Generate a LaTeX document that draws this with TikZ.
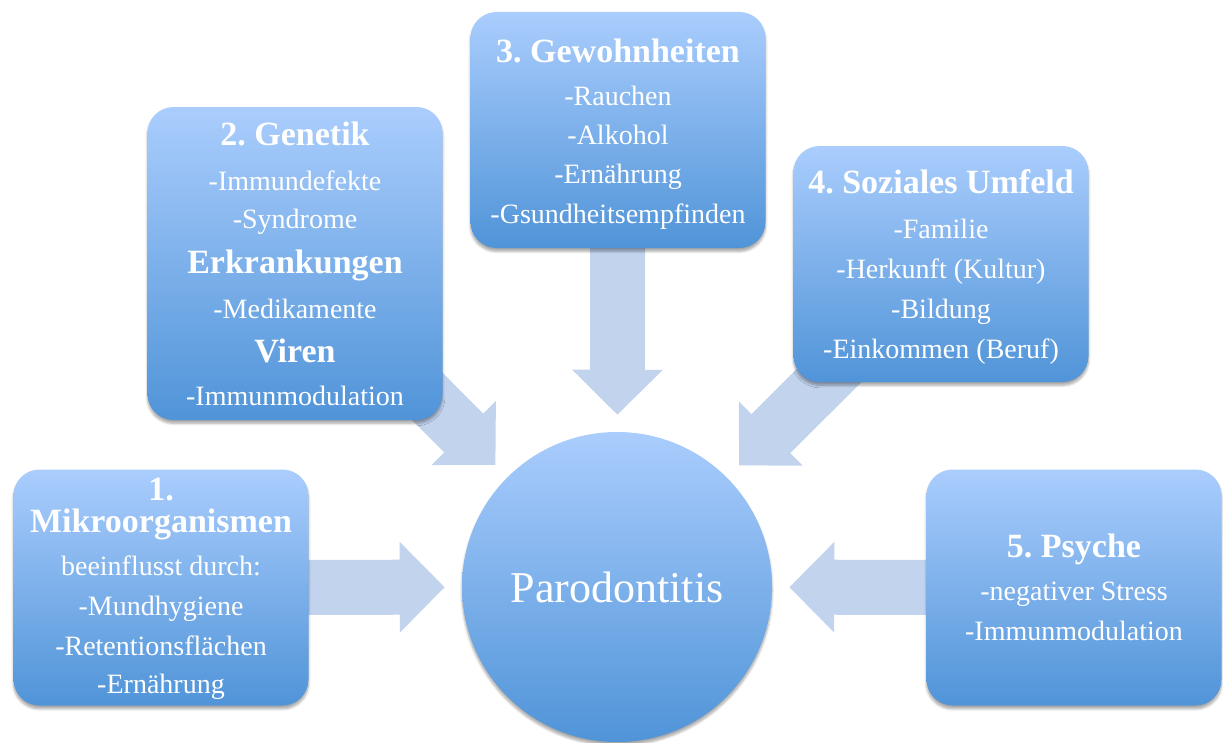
\documentclass[tikz,border=0pt]{standalone}
\usepackage{fontspec}
\setmainfont{Liberation Serif}
\usetikzlibrary{arrows.meta,shadows.blur,backgrounds}
\definecolor{boxtop}{RGB}{170,205,253}
\definecolor{boxbot}{RGB}{80,148,216}
\definecolor{arrowc}{RGB}{194,211,238}
\newcommand{\boxtitle}[1]{{\fontsize{25.5pt}{30pt}\selectfont\bfseries #1}}
\newcommand{\toppad}[1]{\rule{0pt}{#1}}
\tikzset{
  factor/.style={rounded corners=19.5pt, top color=boxtop, bottom color=boxbot, draw=none,
    minimum width=221.25pt, minimum height=177pt, inner sep=0pt, align=center, text=white,
    font=\fontsize{21pt}{30pt}\selectfont\frenchspacing,
    blur shadow={shadow xshift=0pt, shadow yshift=-2.5pt, shadow blur steps=6, shadow opacity=35}},
  center/.style={circle, top color=boxtop, bottom color=boxbot, draw=none, minimum size=232.5pt,
    inner sep=0pt, text=white, font=\fontsize{33pt}{40pt}\selectfont,
    blur shadow={shadow xshift=0pt, shadow yshift=-2.5pt, shadow blur steps=6, shadow opacity=35}},
  blockarrow/.style={line width=41.25pt, draw=arrowc, -{Triangle[length=33.75pt,width=66pt]},
    shorten >=12.75pt}
}
\begin{document}
\begin{tikzpicture}[x=0.75pt,y=-0.75pt]
\useasboundingbox (0,0) rectangle (1223,742);
\node[center] (P) at (617,587) {Parodontitis};
\node[factor] (b1) at (161,587.5) {\boxtitle{\toppad{19pt}1.}\\[-6pt]\boxtitle{Mikroorganismen}\\[2.25pt]beeinflusst durch:\\-Mundhygiene\\-Retentionsflächen\\[-1.5pt]-Ernährung};
\node[factor, minimum height=234.75pt] (b2) at (295,263.5) {\boxtitle{2. Genetik}\\[3.75pt]-Immundefekte\\[-1.5pt]-Syndrome\\[3.75pt]\boxtitle{Erkrankungen}\\[3.75pt]-Medikamente\\[3pt]\boxtitle{Viren}\\[2.25pt]-Immunmodulation};
\node[factor] (b3) at (618,130) {\boxtitle{\toppad{23.5pt}3. Gewohnheiten}\\[2.25pt]-Rauchen\\[-0.75pt]-Alkohol\\[-0.75pt]-Ernährung\\-Gsundheitsempfinden};
\node[factor] (b4) at (941,264) {\boxtitle{\toppad{22pt}4. Soziales Umfeld}\\[3.75pt]-Familie\\-Herkunft (Kultur)\\-Bildung\\-Einkommen (Beruf)};
\node[factor] (b5) at (1074,587.5) {\boxtitle{5. Psyche}\\[2.25pt]-negativer Stress\\-Immunmodulation};
\begin{scope}[on background layer]
\draw[blockarrow] (b1.center) -- (P);
\draw[blockarrow] (b2.center) -- (P);
\draw[blockarrow] (b3.center) -- (P);
\draw[blockarrow] (b4.center) -- (P);
\draw[blockarrow] (b5.center) -- (P);
\end{scope}
\end{tikzpicture}
\end{document}
